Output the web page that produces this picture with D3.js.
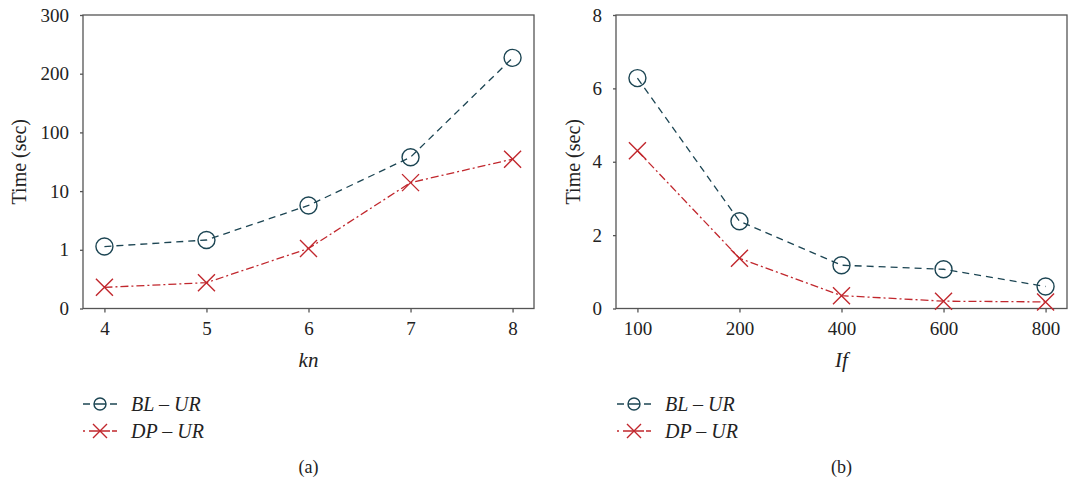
<!DOCTYPE html>
<html>
<head>
<meta charset="utf-8">
<script src="https://cdn.jsdelivr.net/npm/d3@7"></script>
<style>
  body { margin: 0; background: #fff; }
  svg text { font-family: "Liberation Serif", "DejaVu Serif", serif; fill: #222; }
</style>
</head>
<body>
<svg id="chart" width="1068" height="487"></svg>
<script>
// panel (a): time vs kn
const knValues = [4, 5, 6, 7, 8];
const knBL = [1.5, 2.5, 7.8, 62, 227];
const knDP = [0.36, 0.44, 1.2, 23, 59];
const knYTicks = [0, 1, 10, 100, 200, 300];

// panel (b): time vs If
const ifValues = ["100", "200", "400", "600", "800"];
const ifBL = [6.28, 2.38, 1.18, 1.07, 0.6];
const ifDP = [4.3, 1.37, 0.35, 0.2, 0.18];
const ifYTicks = [0, 2, 4, 6, 8];

const seriesNames = ["BL \u2013 UR", "DP \u2013 UR"];
const blColor = "#1c4553";
const dpColor = "#c1272d";

const svg = d3.select("#chart");

function drawPanel(opt) {
  const { left, right, top, bottom } = opt;
  const g = svg.append("g");

  const x = d3.scalePoint().domain(opt.xDomain).range([left, right]).padding(opt.pad);
  const y = opt.yScale.range(opt.yRange(top, bottom));

  // frame
  g.append("rect")
    .attr("x", left).attr("y", top)
    .attr("width", right - left).attr("height", bottom - top)
    .attr("fill", "none").attr("stroke", "#555").attr("stroke-width", 1.3);

  const xAxis = g.append("g")
    .attr("transform", `translate(0,${bottom})`)
    .call(d3.axisBottom(x).tickSize(4).tickPadding(9).tickSizeOuter(0));
  const yAxis = g.append("g")
    .attr("transform", `translate(${left},0)`)
    .call(d3.axisLeft(y).tickValues(opt.yTicks).tickFormat(d3.format("d"))
      .tickSize(3).tickPadding(11).tickSizeOuter(0));
  [xAxis, yAxis].forEach(a => {
    a.attr("font-family", null);
    a.select(".domain").remove();
    a.selectAll("line").attr("stroke", "#555").attr("stroke-width", 1.3);
    a.selectAll("text").style("font-size", "19px").attr("fill", "#222");
  });

  const line = d3.line().x((d, i) => x(opt.xDomain[i])).y(d => y(d));

  // BL line + circles
  g.append("path").datum(opt.bl)
    .attr("d", line).attr("fill", "none")
    .attr("stroke", blColor).attr("stroke-width", 1.3)
    .attr("stroke-dasharray", "7,5");
  g.selectAll(".bl").data(opt.bl).enter().append("circle")
    .attr("class", "bl")
    .attr("cx", (d, i) => x(opt.xDomain[i])).attr("cy", d => y(d))
    .attr("r", 8.5).attr("fill", "none")
    .attr("stroke", blColor).attr("stroke-width", 1.4);

  // DP line + crosses
  g.append("path").datum(opt.dp)
    .attr("d", line).attr("fill", "none")
    .attr("stroke", dpColor).attr("stroke-width", 1.3)
    .attr("stroke-dasharray", "8,3,2,3");
  g.selectAll(".dp").data(opt.dp).enter().append("path")
    .attr("class", "dp")
    .attr("transform", (d, i) => `translate(${x(opt.xDomain[i])},${y(d)})`)
    .attr("d", "M-8.5,-8.5L8.5,8.5M-8.5,8.5L8.5,-8.5")
    .attr("stroke", dpColor).attr("stroke-width", 1.4);

  // axis titles
  g.append("text")
    .attr("transform", `translate(${opt.yTitleX},${(top + bottom) / 2}) rotate(-90)`)
    .attr("text-anchor", "middle").style("font-size", "20px")
    .text("Time (sec)");
  g.append("text")
    .attr("x", (left + right) / 2).attr("y", 367)
    .attr("text-anchor", "middle").style("font-size", "21px").style("font-style", "italic")
    .text(opt.xTitle);

  // legend
  const lg = g.append("g").attr("transform", `translate(${opt.legendX},0)`);
  [[404, blColor, "7,4,12,4,7"], [431, dpColor, "2,4,21,2,5"]].forEach(([ly, c, dash], k) => {
    lg.append("line").attr("x1", 0).attr("x2", 34).attr("y1", ly).attr("y2", ly)
      .attr("stroke", c).attr("stroke-width", 1.3).attr("stroke-dasharray", dash);
    if (k === 0) {
      lg.append("circle").attr("cx", 17).attr("cy", ly).attr("r", 6)
        .attr("fill", "none").attr("stroke", c).attr("stroke-width", 1.4);
    } else {
      lg.append("path").attr("transform", `translate(17,${ly})`)
        .attr("d", "M-7,-7L7,7M-7,7L7,-7").attr("stroke", c).attr("stroke-width", 1.4);
    }
    lg.append("text").attr("x", opt.legendText).attr("y", ly + 7)
      .style("font-size", "20px").style("font-style", "italic")
      .text(seriesNames[k]);
  });

  // caption
  g.append("text")
    .attr("x", (left + right) / 2).attr("y", 473)
    .attr("text-anchor", "middle").style("font-size", "18px")
    .text(opt.caption);
}

drawPanel({
  left: 83, right: 534, top: 15, bottom: 308.5, pad: 0.21,
  xDomain: knValues, bl: knBL, dp: knDP,
  yScale: d3.scaleLinear().domain(knYTicks),
  yRange: (t, b) => knYTicks.map((d, i) => b - (b - t) * i / (knYTicks.length - 1)),
  yTicks: knYTicks, yTitleX: 26, xTitle: "kn", legendX: 83, legendText: 48, caption: "(a)"
});

drawPanel({
  left: 616, right: 1067, top: 15, bottom: 308.5, pad: 0.21,
  xDomain: ifValues, bl: ifBL, dp: ifDP,
  yScale: d3.scaleLinear().domain([0, 8]),
  yRange: (t, b) => [b, t],
  yTicks: ifYTicks, yTitleX: 580, xTitle: "If", legendX: 617, legendText: 48, caption: "(b)"
});
</script>
</body>
</html>
